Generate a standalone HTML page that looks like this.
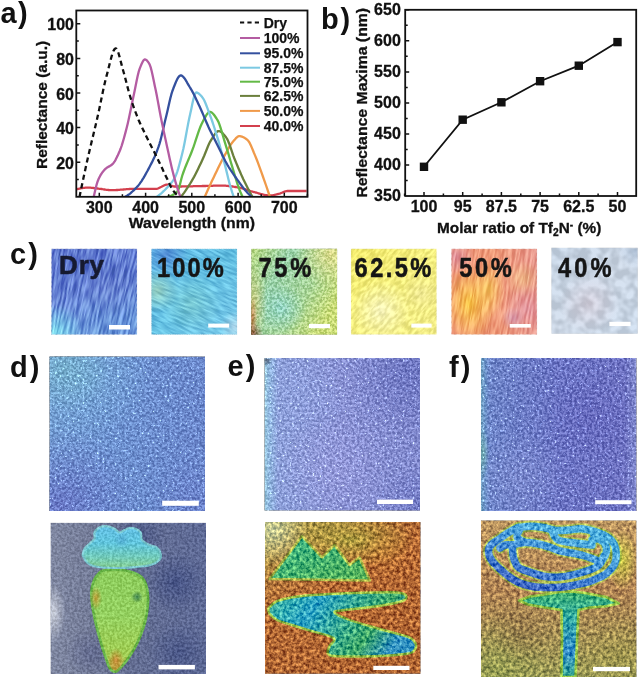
<!DOCTYPE html>
<html><head><meta charset="utf-8"><style>
html,body{margin:0;padding:0;background:#fff;}
svg{display:block;}
</style></head><body>
<svg width="641" height="677" viewBox="0 0 641 677">
<defs><clipPath id="clipA"><rect x="77" y="11.4" width="229.6" height="184.6"/></clipPath>
<linearGradient id="gDry" x1="0" y1="0" x2="0.25" y2="1"><stop offset="0" stop-color="#5c74cc"/><stop offset="0.55" stop-color="#6480d2"/><stop offset="1" stop-color="#6a96da"/></linearGradient>
<filter id="nDry" x="0" y="0" width="1" height="1" color-interpolation-filters="sRGB"><feTurbulence type="fractalNoise" baseFrequency="0.5 0.05" numOctaves="2" seed="3" result="t1"/><feColorMatrix in="t1" type="matrix" values="2.700 0 0 0 -0.850  3.000 0 0 0 -1.000  1.800 0 0 0 -0.400  0 0 0 0 1" result="g1"/><feComposite in="SourceGraphic" in2="g1" operator="arithmetic" k1="0" k2="1" k3="0.300" k4="-0.150" result="o1"/><feComposite in="o1" in2="SourceGraphic" operator="in"/></filter>
<radialGradient id="b1" gradientUnits="userSpaceOnUse" cx="55.2" cy="332.6" r="28.0"><stop offset="0" stop-color="#80dcf0" stop-opacity="1"/><stop offset="1" stop-color="#80dcf0" stop-opacity="0"/></radialGradient>
<radialGradient id="b2" gradientUnits="userSpaceOnUse" cx="111.2" cy="288.6" r="30.0"><stop offset="0" stop-color="#6478c8" stop-opacity="0.35"/><stop offset="1" stop-color="#6478c8" stop-opacity="0"/></radialGradient>
<clipPath id="cDry"><rect x="51.2" y="248.6" width="86.0" height="86.2"/></clipPath>
<linearGradient id="g100" x1="0" y1="0" x2="1" y2="1"><stop offset="0" stop-color="#5cb4e2"/><stop offset="0.5" stop-color="#64c0e2"/><stop offset="1" stop-color="#74c4e6"/></linearGradient>
<filter id="n100" x="0" y="0" width="1" height="1" color-interpolation-filters="sRGB"><feTurbulence type="fractalNoise" baseFrequency="0.5 0.07" numOctaves="2" seed="7" result="t1"/><feColorMatrix in="t1" type="matrix" values="2.400 0 0 0 -0.700  2.400 0 0 0 -0.700  1.800 0 0 0 -0.400  0 0 0 0 1" result="g1"/><feComposite in="SourceGraphic" in2="g1" operator="arithmetic" k1="0" k2="1" k3="0.200" k4="-0.100" result="o1"/><feComposite in="o1" in2="SourceGraphic" operator="in"/></filter>
<radialGradient id="b3" gradientUnits="userSpaceOnUse" cx="166.2" cy="254.6" r="22.0"><stop offset="0" stop-color="#4a7ad0" stop-opacity="0.75"/><stop offset="1" stop-color="#4a7ad0" stop-opacity="0"/></radialGradient>
<radialGradient id="b4" gradientUnits="userSpaceOnUse" cx="157.2" cy="290.6" r="22.0"><stop offset="0" stop-color="#a8d8b8" stop-opacity="0.75"/><stop offset="1" stop-color="#a8d8b8" stop-opacity="0"/></radialGradient>
<radialGradient id="b5" gradientUnits="userSpaceOnUse" cx="191.2" cy="303.6" r="30.0"><stop offset="0" stop-color="#88d0c8" stop-opacity="0.55"/><stop offset="1" stop-color="#88d0c8" stop-opacity="0"/></radialGradient>
<radialGradient id="b6" gradientUnits="userSpaceOnUse" cx="235.2" cy="326.6" r="15.0"><stop offset="0" stop-color="#d0e8f4" stop-opacity="0.7"/><stop offset="1" stop-color="#d0e8f4" stop-opacity="0"/></radialGradient>
<clipPath id="c100"><rect x="151.2" y="248.6" width="86.0" height="86.2"/></clipPath>
<linearGradient id="g75" x1="0" y1="0" x2="1" y2="0.6"><stop offset="0" stop-color="#b8d880"/><stop offset="0.35" stop-color="#98d0a8"/><stop offset="0.7" stop-color="#a8d498"/><stop offset="1" stop-color="#cadc78"/></linearGradient>
<filter id="n75" x="0" y="0" width="1" height="1" color-interpolation-filters="sRGB"><feTurbulence type="fractalNoise" baseFrequency="0.4" numOctaves="2" seed="9" result="t1"/><feColorMatrix in="t1" type="matrix" values="3.300 0 0 0 -1.150  2.400 0 0 0 -0.700  3.600 0 0 0 -1.300  0 0 0 0 1" result="g1"/><feComposite in="SourceGraphic" in2="g1" operator="arithmetic" k1="0" k2="1" k3="0.220" k4="-0.110" result="o1"/><feComposite in="o1" in2="SourceGraphic" operator="in"/></filter>
<radialGradient id="b7" gradientUnits="userSpaceOnUse" cx="331.2" cy="253.6" r="35.0"><stop offset="0" stop-color="#e4dc88" stop-opacity="0.85"/><stop offset="1" stop-color="#e4dc88" stop-opacity="0"/></radialGradient>
<radialGradient id="b8" gradientUnits="userSpaceOnUse" cx="281.2" cy="308.6" r="25.0"><stop offset="0" stop-color="#88d4dc" stop-opacity="0.6"/><stop offset="1" stop-color="#88d4dc" stop-opacity="0"/></radialGradient>
<radialGradient id="b9" gradientUnits="userSpaceOnUse" cx="253.2" cy="303.6" r="14.0" gradientTransform="translate(253.2 303.6) scale(1 2.857) translate(-253.2 -303.6)"><stop offset="0" stop-color="#d0c878" stop-opacity="0.8"/><stop offset="1" stop-color="#d0c878" stop-opacity="0"/></radialGradient>
<radialGradient id="b10" gradientUnits="userSpaceOnUse" cx="251.2" cy="334.6" r="12.0"><stop offset="0" stop-color="#6a3020" stop-opacity="0.95"/><stop offset="1" stop-color="#6a3020" stop-opacity="0"/></radialGradient>
<radialGradient id="b11" gradientUnits="userSpaceOnUse" cx="252.2" cy="318.6" r="5.0" gradientTransform="translate(252.2 318.6) scale(1 4.400) translate(-252.2 -318.6)"><stop offset="0" stop-color="#c07040" stop-opacity="0.8"/><stop offset="1" stop-color="#c07040" stop-opacity="0"/></radialGradient>
<linearGradient id="g625" x1="0" y1="0" x2="1" y2="1"><stop offset="0" stop-color="#f2ea6c"/><stop offset="0.5" stop-color="#f4ee80"/><stop offset="1" stop-color="#f2ec88"/></linearGradient>
<filter id="n625" x="0" y="0" width="1" height="1" color-interpolation-filters="sRGB"><feTurbulence type="fractalNoise" baseFrequency="0.35 0.15" numOctaves="2" seed="13" result="t1"/><feColorMatrix in="t1" type="matrix" values="3.000 0 0 0 -1.000  3.000 0 0 0 -1.000  3.900 0 0 0 -1.450  0 0 0 0 1" result="g1"/><feComposite in="SourceGraphic" in2="g1" operator="arithmetic" k1="0" k2="1" k3="0.140" k4="-0.070" result="o1"/><feComposite in="o1" in2="SourceGraphic" operator="in"/></filter>
<radialGradient id="b12" gradientUnits="userSpaceOnUse" cx="380.8" cy="310.6" r="30.0"><stop offset="0" stop-color="#f8f6d0" stop-opacity="0.75"/><stop offset="1" stop-color="#f8f6d0" stop-opacity="0"/></radialGradient>
<radialGradient id="b13" gradientUnits="userSpaceOnUse" cx="420.8" cy="293.6" r="20.0"><stop offset="0" stop-color="#e8e0a0" stop-opacity="0.5"/><stop offset="1" stop-color="#e8e0a0" stop-opacity="0"/></radialGradient>
<clipPath id="c625"><rect x="350.8" y="248.6" width="86.0" height="86.2"/></clipPath>
<linearGradient id="g50" x1="0" y1="0" x2="1" y2="0"><stop offset="0" stop-color="#ee967c"/><stop offset="0.5" stop-color="#f09c7a"/><stop offset="1" stop-color="#e8988e"/></linearGradient>
<filter id="n50" x="0" y="0" width="1" height="1" color-interpolation-filters="sRGB"><feTurbulence type="fractalNoise" baseFrequency="0.45 0.05" numOctaves="2" seed="21" result="t1"/><feColorMatrix in="t1" type="matrix" values="1.500 0 0 0 -0.250  3.000 0 0 0 -1.000  2.700 0 0 0 -0.850  0 0 0 0 1" result="g1"/><feComposite in="SourceGraphic" in2="g1" operator="arithmetic" k1="0" k2="1" k3="0.200" k4="-0.100" result="o1"/><feComposite in="o1" in2="SourceGraphic" operator="in"/></filter>
<radialGradient id="b14" gradientUnits="userSpaceOnUse" cx="469.2" cy="303.6" r="26.0" gradientTransform="translate(469.2 303.6) scale(1 1.538) translate(-469.2 -303.6)"><stop offset="0" stop-color="#f8c840" stop-opacity="0.9"/><stop offset="1" stop-color="#f8c840" stop-opacity="0"/></radialGradient>
<radialGradient id="b15" gradientUnits="userSpaceOnUse" cx="489.2" cy="288.6" r="16.0" gradientTransform="translate(489.2 288.6) scale(1 1.875) translate(-489.2 -288.6)"><stop offset="0" stop-color="#f8d058" stop-opacity="0.7"/><stop offset="1" stop-color="#f8d058" stop-opacity="0"/></radialGradient>
<radialGradient id="b16" gradientUnits="userSpaceOnUse" cx="523.2" cy="278.6" r="18.0"><stop offset="0" stop-color="#f4d088" stop-opacity="0.55"/><stop offset="1" stop-color="#f4d088" stop-opacity="0"/></radialGradient>
<radialGradient id="b17" gradientUnits="userSpaceOnUse" cx="526.2" cy="308.6" r="24.0"><stop offset="0" stop-color="#e094ac" stop-opacity="0.6"/><stop offset="1" stop-color="#e094ac" stop-opacity="0"/></radialGradient>
<radialGradient id="b18" gradientUnits="userSpaceOnUse" cx="456.2" cy="256.6" r="18.0"><stop offset="0" stop-color="#d890a8" stop-opacity="0.7"/><stop offset="1" stop-color="#d890a8" stop-opacity="0"/></radialGradient>
<radialGradient id="b19" gradientUnits="userSpaceOnUse" cx="513.2" cy="318.6" r="12.0"><stop offset="0" stop-color="#c890b8" stop-opacity="0.6"/><stop offset="1" stop-color="#c890b8" stop-opacity="0"/></radialGradient>
<clipPath id="c50"><rect x="451.2" y="248.6" width="86.0" height="86.2"/></clipPath>
<linearGradient id="g40" x1="0" y1="0" x2="1" y2="1"><stop offset="0" stop-color="#c4d2e2"/><stop offset="0.5" stop-color="#c8d3e1"/><stop offset="1" stop-color="#c8d6e6"/></linearGradient>
<filter id="n40" x="0" y="0" width="1" height="1" color-interpolation-filters="sRGB"><feTurbulence type="fractalNoise" baseFrequency="0.1" numOctaves="2" seed="25" result="t1"/><feColorMatrix in="t1" type="matrix" values="3.000 0 0 0 -1.000  3.000 0 0 0 -1.000  3.000 0 0 0 -1.000  0 0 0 0 1" result="g1"/><feComposite in="SourceGraphic" in2="g1" operator="arithmetic" k1="0" k2="1" k3="0.120" k4="-0.060" result="o1"/><feComposite in="o1" in2="SourceGraphic" operator="in"/></filter>
<radialGradient id="b20" gradientUnits="userSpaceOnUse" cx="589.3" cy="303.6" r="30.0"><stop offset="0" stop-color="#d4ccd8" stop-opacity="0.7"/><stop offset="1" stop-color="#d4ccd8" stop-opacity="0"/></radialGradient>
<radialGradient id="b21" gradientUnits="userSpaceOnUse" cx="635.3" cy="250.6" r="18.0"><stop offset="0" stop-color="#a8bcd4" stop-opacity="0.7"/><stop offset="1" stop-color="#a8bcd4" stop-opacity="0"/></radialGradient>
<linearGradient id="gDt" x1="0" y1="0" x2="1" y2="0.2"><stop offset="0" stop-color="#74a0d2"/><stop offset="0.5" stop-color="#6c90ce"/><stop offset="1" stop-color="#6a86ca"/></linearGradient>
<filter id="nDt" x="0" y="0" width="1" height="1" color-interpolation-filters="sRGB"><feTurbulence type="fractalNoise" baseFrequency="0.4" numOctaves="2" seed="31" result="t1"/><feColorMatrix in="t1" type="matrix" values="2.400 0 0 0 -0.700  2.850 0 0 0 -0.925  2.700 0 0 0 -0.850  0 0 0 0 1" result="g1"/><feComposite in="SourceGraphic" in2="g1" operator="arithmetic" k1="0" k2="1" k3="0.220" k4="-0.110" result="o1"/><feTurbulence type="fractalNoise" baseFrequency="0.4" numOctaves="2" seed="77" result="t2"/><feColorMatrix in="t2" type="matrix" values="3.200 0 0 0 -1.984  3.600 0 0 0 -2.232  3.600 0 0 0 -2.232  0 0 0 0 1" result="g2"/><feComposite in="o1" in2="g2" operator="arithmetic" k1="0" k2="1" k3="0.450" k4="0" result="o1"/><feComposite in="o1" in2="SourceGraphic" operator="in"/></filter>
<radialGradient id="b22" gradientUnits="userSpaceOnUse" cx="59.5" cy="506.5" r="80.0"><stop offset="0" stop-color="#6670c2" stop-opacity="0.85"/><stop offset="1" stop-color="#6670c2" stop-opacity="0"/></radialGradient>
<radialGradient id="b23" gradientUnits="userSpaceOnUse" cx="89.5" cy="376.5" r="60.0"><stop offset="0" stop-color="#76aad4" stop-opacity="0.6"/><stop offset="1" stop-color="#76aad4" stop-opacity="0"/></radialGradient>
<radialGradient id="b24" gradientUnits="userSpaceOnUse" cx="64.5" cy="368.5" r="45.0"><stop offset="0" stop-color="#74b4c4" stop-opacity="0.55"/><stop offset="1" stop-color="#74b4c4" stop-opacity="0"/></radialGradient>
<radialGradient id="b25" gradientUnits="userSpaceOnUse" cx="199.5" cy="506.5" r="50.0"><stop offset="0" stop-color="#6a78c6" stop-opacity="0.4"/><stop offset="1" stop-color="#6a78c6" stop-opacity="0"/></radialGradient>
<linearGradient id="gEt" x1="0" y1="0" x2="1" y2="0"><stop offset="0" stop-color="#98c8de"/><stop offset="0.03" stop-color="#90b6de"/><stop offset="0.09" stop-color="#8c9ed8"/><stop offset="0.5" stop-color="#8890d2"/><stop offset="1" stop-color="#8088cc"/></linearGradient>
<filter id="nEt" x="0" y="0" width="1" height="1" color-interpolation-filters="sRGB"><feTurbulence type="fractalNoise" baseFrequency="0.4" numOctaves="2" seed="37" result="t1"/><feColorMatrix in="t1" type="matrix" values="2.700 0 0 0 -0.850  2.700 0 0 0 -0.850  2.400 0 0 0 -0.700  0 0 0 0 1" result="g1"/><feComposite in="SourceGraphic" in2="g1" operator="arithmetic" k1="0" k2="1" k3="0.220" k4="-0.110" result="o1"/><feTurbulence type="fractalNoise" baseFrequency="0.4" numOctaves="2" seed="77" result="t2"/><feColorMatrix in="t2" type="matrix" values="3.200 0 0 0 -1.984  3.600 0 0 0 -2.232  3.600 0 0 0 -2.232  0 0 0 0 1" result="g2"/><feComposite in="o1" in2="g2" operator="arithmetic" k1="0" k2="1" k3="0.450" k4="0" result="o1"/><feComposite in="o1" in2="SourceGraphic" operator="in"/></filter>
<radialGradient id="b26" gradientUnits="userSpaceOnUse" cx="409.5" cy="373.0" r="65.0"><stop offset="0" stop-color="#6068b8" stop-opacity="0.6"/><stop offset="1" stop-color="#6068b8" stop-opacity="0"/></radialGradient>
<radialGradient id="b27" gradientUnits="userSpaceOnUse" cx="419.5" cy="508.0" r="45.0"><stop offset="0" stop-color="#6068b8" stop-opacity="0.5"/><stop offset="1" stop-color="#6068b8" stop-opacity="0"/></radialGradient>
<radialGradient id="b28" gradientUnits="userSpaceOnUse" cx="334.5" cy="468.0" r="55.0"><stop offset="0" stop-color="#9a9cdc" stop-opacity="0.55"/><stop offset="1" stop-color="#9a9cdc" stop-opacity="0"/></radialGradient>
<radialGradient id="b29" gradientUnits="userSpaceOnUse" cx="304.5" cy="398.0" r="40.0"><stop offset="0" stop-color="#8ea0dc" stop-opacity="0.4"/><stop offset="1" stop-color="#8ea0dc" stop-opacity="0"/></radialGradient>
<radialGradient id="b30" gradientUnits="userSpaceOnUse" cx="266.5" cy="360.0" r="6.0"><stop offset="0" stop-color="#404860" stop-opacity="0.8"/><stop offset="1" stop-color="#404860" stop-opacity="0"/></radialGradient>
<linearGradient id="gFt" x1="0" y1="0" x2="1" y2="0"><stop offset="0" stop-color="#6c9cbc"/><stop offset="0.025" stop-color="#6c94c8"/><stop offset="0.06" stop-color="#6c82c6"/><stop offset="0.5" stop-color="#6a72c2"/><stop offset="0.92" stop-color="#6c70c0"/><stop offset="1" stop-color="#8088cc"/></linearGradient>
<filter id="nFt" x="0" y="0" width="1" height="1" color-interpolation-filters="sRGB"><feTurbulence type="fractalNoise" baseFrequency="0.4" numOctaves="2" seed="41" result="t1"/><feColorMatrix in="t1" type="matrix" values="2.700 0 0 0 -0.850  2.700 0 0 0 -0.850  2.400 0 0 0 -0.700  0 0 0 0 1" result="g1"/><feComposite in="SourceGraphic" in2="g1" operator="arithmetic" k1="0" k2="1" k3="0.220" k4="-0.110" result="o1"/><feTurbulence type="fractalNoise" baseFrequency="0.4" numOctaves="2" seed="77" result="t2"/><feColorMatrix in="t2" type="matrix" values="3.200 0 0 0 -1.984  3.600 0 0 0 -2.232  3.600 0 0 0 -2.232  0 0 0 0 1" result="g2"/><feComposite in="o1" in2="g2" operator="arithmetic" k1="0" k2="1" k3="0.450" k4="0" result="o1"/><feComposite in="o1" in2="SourceGraphic" operator="in"/></filter>
<radialGradient id="b31" gradientUnits="userSpaceOnUse" cx="521.0" cy="478.0" r="50.0"><stop offset="0" stop-color="#8490d0" stop-opacity="0.5"/><stop offset="1" stop-color="#8490d0" stop-opacity="0"/></radialGradient>
<radialGradient id="b32" gradientUnits="userSpaceOnUse" cx="483.0" cy="453.0" r="6.0" gradientTransform="translate(483.0 453.0) scale(1 4.167) translate(-483.0 -453.0)"><stop offset="0" stop-color="#70b0a0" stop-opacity="0.6"/><stop offset="1" stop-color="#70b0a0" stop-opacity="0"/></radialGradient>
<radialGradient id="b33" gradientUnits="userSpaceOnUse" cx="591.0" cy="418.0" r="45.0"><stop offset="0" stop-color="#6060b8" stop-opacity="0.5"/><stop offset="1" stop-color="#6060b8" stop-opacity="0"/></radialGradient>
<linearGradient id="gDb" x1="0" y1="0" x2="1" y2="0"><stop offset="0" stop-color="#8088a2"/><stop offset="0.25" stop-color="#747c98"/><stop offset="0.5" stop-color="#646e92"/><stop offset="1" stop-color="#5e6a96"/></linearGradient>
<linearGradient id="gLeaf" x1="0" y1="0" x2="0" y2="1"><stop offset="0" stop-color="#64c0e4"/><stop offset="0.4" stop-color="#60c4dc"/><stop offset="0.75" stop-color="#72cab8"/><stop offset="1" stop-color="#84cc90"/></linearGradient>
<linearGradient id="gCarrot" x1="0" y1="0" x2="0" y2="1"><stop offset="0" stop-color="#8ccc5c"/><stop offset="0.45" stop-color="#94d060"/><stop offset="0.85" stop-color="#a0cc52"/><stop offset="1" stop-color="#c0a040"/></linearGradient>
<filter id="nDb" x="0" y="0" width="1" height="1" color-interpolation-filters="sRGB"><feTurbulence type="fractalNoise" baseFrequency="0.4" numOctaves="2" seed="43" result="t1"/><feColorMatrix in="t1" type="matrix" values="2.250 0 0 0 -0.625  2.375 0 0 0 -0.688  2.500 0 0 0 -0.750  0 0 0 0 1" result="g1"/><feComposite in="SourceGraphic" in2="g1" operator="arithmetic" k1="0" k2="1" k3="0.150" k4="-0.075" result="o1"/><feComposite in="o1" in2="SourceGraphic" operator="in"/></filter>
<radialGradient id="b34" gradientUnits="userSpaceOnUse" cx="175.5" cy="582.7" r="30.0"><stop offset="0" stop-color="#34427a" stop-opacity="0.6"/><stop offset="1" stop-color="#34427a" stop-opacity="0"/></radialGradient>
<radialGradient id="b35" gradientUnits="userSpaceOnUse" cx="178.5" cy="652.7" r="30.0"><stop offset="0" stop-color="#34427a" stop-opacity="0.5"/><stop offset="1" stop-color="#34427a" stop-opacity="0"/></radialGradient>
<radialGradient id="b36" gradientUnits="userSpaceOnUse" cx="140.5" cy="534.7" r="25.0"><stop offset="0" stop-color="#34427a" stop-opacity="0.45"/><stop offset="1" stop-color="#34427a" stop-opacity="0"/></radialGradient>
<radialGradient id="b37" gradientUnits="userSpaceOnUse" cx="90.5" cy="652.7" r="25.0"><stop offset="0" stop-color="#4a5282" stop-opacity="0.4"/><stop offset="1" stop-color="#4a5282" stop-opacity="0"/></radialGradient>
<radialGradient id="b38" gradientUnits="userSpaceOnUse" cx="53.5" cy="612.7" r="12.0" gradientTransform="translate(53.5 612.7) scale(1 2.500) translate(-53.5 -612.7)"><stop offset="0" stop-color="#dce0e8" stop-opacity="0.8"/><stop offset="1" stop-color="#dce0e8" stop-opacity="0"/></radialGradient>
<radialGradient id="b39" gradientUnits="userSpaceOnUse" cx="96.0" cy="598.0" r="6.0" gradientTransform="translate(96.0 598.0) scale(1 2.000) translate(-96.0 -598.0)"><stop offset="0" stop-color="#c89030" stop-opacity="0.8"/><stop offset="1" stop-color="#c89030" stop-opacity="0"/></radialGradient>
<radialGradient id="b40" gradientUnits="userSpaceOnUse" cx="116.0" cy="660.0" r="8.0" gradientTransform="translate(116.0 660.0) scale(1 1.500) translate(-116.0 -660.0)"><stop offset="0" stop-color="#d07830" stop-opacity="0.8"/><stop offset="1" stop-color="#d07830" stop-opacity="0"/></radialGradient>
<radialGradient id="b41" gradientUnits="userSpaceOnUse" cx="137.0" cy="597.0" r="6.0"><stop offset="0" stop-color="#2a7048" stop-opacity="0.85"/><stop offset="1" stop-color="#2a7048" stop-opacity="0"/></radialGradient>
<radialGradient id="b42" gradientUnits="userSpaceOnUse" cx="122.0" cy="540.0" r="8.0"><stop offset="0" stop-color="#3a80c0" stop-opacity="0.3"/><stop offset="1" stop-color="#3a80c0" stop-opacity="0"/></radialGradient>
<linearGradient id="gEb" x1="0" y1="0" x2="0.6" y2="1"><stop offset="0" stop-color="#aca454"/><stop offset="0.2" stop-color="#ac8c44"/><stop offset="0.32" stop-color="#b2763c"/><stop offset="0.5" stop-color="#b26834"/><stop offset="1" stop-color="#ae6432"/></linearGradient>
<linearGradient id="gMount" x1="0" y1="0" x2="1" y2="1"><stop offset="0" stop-color="#3cb488"/><stop offset="0.5" stop-color="#44b070"/><stop offset="1" stop-color="#5cb458"/></linearGradient>
<linearGradient id="gLake" x1="0" y1="0" x2="1" y2="0.3"><stop offset="0" stop-color="#58b890"/><stop offset="0.15" stop-color="#38b0b0"/><stop offset="0.35" stop-color="#2aa0c4"/><stop offset="0.6" stop-color="#38a890"/><stop offset="0.8" stop-color="#40a868"/><stop offset="1" stop-color="#3090c0"/></linearGradient>
<filter id="nEb" x="0" y="0" width="1" height="1" color-interpolation-filters="sRGB"><feTurbulence type="fractalNoise" baseFrequency="0.3" numOctaves="3" seed="57" result="t1"/><feColorMatrix in="t1" type="matrix" values="2.000 0 0 0 -0.500  1.700 0 0 0 -0.350  1.000 0 0 0 0.000  0 0 0 0 1" result="g1"/><feComposite in="SourceGraphic" in2="g1" operator="arithmetic" k1="0" k2="1" k3="0.500" k4="-0.250" result="o1"/><feComposite in="o1" in2="SourceGraphic" operator="in"/></filter>
<radialGradient id="b43" gradientUnits="userSpaceOnUse" cx="350.0" cy="540.0" r="65.0" gradientTransform="translate(350.0 540.0) scale(1 0.431) translate(-350.0 -540.0)"><stop offset="0" stop-color="#a8a440" stop-opacity="0.8"/><stop offset="1" stop-color="#a8a440" stop-opacity="0"/></radialGradient>
<radialGradient id="b44" gradientUnits="userSpaceOnUse" cx="290.0" cy="652.0" r="45.0"><stop offset="0" stop-color="#b06a38" stop-opacity="0.5"/><stop offset="1" stop-color="#b06a38" stop-opacity="0"/></radialGradient>
<radialGradient id="b45" gradientUnits="userSpaceOnUse" cx="273.0" cy="530.0" r="35.0"><stop offset="0" stop-color="#c8d0a0" stop-opacity="0.9"/><stop offset="1" stop-color="#c8d0a0" stop-opacity="0"/></radialGradient>
<radialGradient id="b46" gradientUnits="userSpaceOnUse" cx="385.0" cy="552.0" r="25.0"><stop offset="0" stop-color="#c08038" stop-opacity="0.5"/><stop offset="1" stop-color="#c08038" stop-opacity="0"/></radialGradient>
<linearGradient id="gFb" x1="0" y1="0" x2="0" y2="1"><stop offset="0" stop-color="#bc9660"/><stop offset="0.45" stop-color="#b08454"/><stop offset="0.7" stop-color="#a48c54"/><stop offset="1" stop-color="#9a9a56"/></linearGradient>
<linearGradient id="gStem" x1="0" y1="0" x2="0" y2="1"><stop offset="0" stop-color="#40b070"/><stop offset="0.3" stop-color="#30a8a0"/><stop offset="0.7" stop-color="#3088c8"/><stop offset="1" stop-color="#38a890"/></linearGradient>
<linearGradient id="gRose" x1="0" y1="0" x2="0.3" y2="1"><stop offset="0" stop-color="#40a0d8"/><stop offset="0.5" stop-color="#3c74cc"/><stop offset="1" stop-color="#3050b8"/></linearGradient>
<linearGradient id="gRoseR" x1="0" y1="0" x2="1" y2="0"><stop offset="0" stop-color="#3050b8" stop-opacity="0"/><stop offset="0.7" stop-color="#40a8c8" stop-opacity="0.6"/><stop offset="1" stop-color="#60c090" stop-opacity="1"/></linearGradient>
<filter id="nFb" x="0" y="0" width="1" height="1" color-interpolation-filters="sRGB"><feTurbulence type="fractalNoise" baseFrequency="0.3" numOctaves="3" seed="67" result="t1"/><feColorMatrix in="t1" type="matrix" values="1.700 0 0 0 -0.350  1.530 0 0 0 -0.265  0.935 0 0 0 0.032  0 0 0 0 1" result="g1"/><feComposite in="SourceGraphic" in2="g1" operator="arithmetic" k1="0" k2="1" k3="0.500" k4="-0.250" result="o1"/><feComposite in="o1" in2="SourceGraphic" operator="in"/></filter>
<radialGradient id="b47" gradientUnits="userSpaceOnUse" cx="496.0" cy="670.4" r="55.0"><stop offset="0" stop-color="#90a050" stop-opacity="0.55"/><stop offset="1" stop-color="#90a050" stop-opacity="0"/></radialGradient>
<radialGradient id="b48" gradientUnits="userSpaceOnUse" cx="621.0" cy="660.4" r="45.0"><stop offset="0" stop-color="#a09848" stop-opacity="0.45"/><stop offset="1" stop-color="#a09848" stop-opacity="0"/></radialGradient>
<radialGradient id="b49" gradientUnits="userSpaceOnUse" cx="521.0" cy="630.4" r="30.0"><stop offset="0" stop-color="#806040" stop-opacity="0.4"/><stop offset="1" stop-color="#806040" stop-opacity="0"/></radialGradient>
<linearGradient id="gRoseS" gradientUnits="userSpaceOnUse" x1="540" y1="525" x2="520" y2="590"><stop offset="0" stop-color="#4cacdc"/><stop offset="0.5" stop-color="#4488d4"/><stop offset="1" stop-color="#3c60c0"/></linearGradient>
<radialGradient id="b50" gradientUnits="userSpaceOnUse" cx="622.0" cy="560.0" r="16.0" gradientTransform="translate(622.0 560.0) scale(1 1.875) translate(-622.0 -560.0)"><stop offset="0" stop-color="#c8d040" stop-opacity="0.8"/><stop offset="1" stop-color="#c8d040" stop-opacity="0"/></radialGradient></defs>
<rect width="641" height="677" fill="#fff"/>
<g clip-path="url(#clipA)" fill="none" stroke-width="2.3" stroke-linejoin="round" stroke-linecap="butt">
<path d="M76.5,189.3 77.5,189.0 78.5,188.8 79.5,188.6 80.5,188.4 81.5,188.2 82.5,188.0 83.5,187.9 84.5,187.8 85.5,187.7 86.5,187.6 87.5,187.6 88.5,187.6 89.5,187.6 90.5,187.7 91.5,187.8 92.5,187.9 93.5,188.0 94.5,188.1 95.5,188.3 96.5,188.4 97.5,188.5 98.5,188.7 99.5,188.8 100.5,188.9 101.5,189.0 102.5,189.2 103.5,189.3 104.5,189.5 105.5,189.7 106.5,189.8 107.5,189.9 108.5,190.0 109.5,190.1 110.5,190.2 111.5,190.2 112.5,190.2 113.5,190.2 114.5,190.1 115.5,190.1 116.5,190.0 117.5,190.0 118.5,189.9 119.5,189.8 120.5,189.7 121.5,189.7 122.5,189.6 123.5,189.5 124.5,189.4 125.5,189.3 126.5,189.2 127.5,189.1 128.5,189.1 129.5,189.0 130.5,188.9 131.5,188.9 132.5,188.8 133.5,188.8 134.5,188.8 135.5,188.8 136.5,188.8 137.5,188.8 138.5,188.8 139.5,188.8 140.5,188.8 141.5,188.8 142.5,188.8 143.5,188.8 144.5,188.8 145.5,188.8 146.5,188.8 147.5,188.8 148.5,188.8 149.5,188.8 150.5,188.8 151.5,188.8 152.5,188.8 153.5,188.8 154.5,188.8 155.5,188.8 156.5,188.8 157.5,188.6 158.5,188.2 159.5,187.7 160.5,187.2 161.5,186.8 162.5,186.3 163.5,185.8 164.5,185.3 165.5,184.9 166.5,184.6 167.5,184.6 168.5,184.8 169.5,185.0 170.5,185.3 171.5,185.7 172.5,186.0 173.5,186.3 174.5,186.5 175.5,186.5 176.5,186.5 177.5,186.5 178.5,186.5 179.5,186.5 180.5,186.5 181.5,186.5 182.5,186.4 183.5,186.4 184.5,186.4 185.5,186.4 186.5,186.4 187.5,186.4 188.5,186.3 189.5,186.3 190.5,186.3 191.5,186.3 192.5,186.3 193.5,186.2 194.5,186.2 195.5,186.2 196.5,186.2 197.5,186.1 198.5,186.1 199.5,186.1 200.5,186.1 201.5,186.1 202.5,186.0 203.5,186.0 204.5,186.0 205.5,186.0 206.5,185.9 207.5,185.9 208.5,185.9 209.5,185.8 210.5,185.8 211.5,185.8 212.5,185.8 213.5,185.7 214.5,185.7 215.5,185.7 216.5,185.7 217.5,185.6 218.5,185.6 219.5,185.6 220.5,185.6 221.5,185.6 222.5,185.6 223.5,185.6 224.5,185.6 225.5,185.7 226.5,185.8 227.5,185.9 228.5,186.0 229.5,186.1 230.5,186.2 231.5,186.4 232.5,186.5 233.5,186.7 234.5,186.8 235.5,187.0 236.5,187.2 237.5,187.3 238.5,187.5 239.5,187.7 240.5,187.9 241.5,188.2 242.5,188.5 243.5,188.8 244.5,189.1 245.5,189.4 246.5,189.8 247.5,190.1 248.5,190.4 249.5,190.7 250.5,191.1 251.5,191.4 252.5,191.7 253.5,192.0 254.5,192.2 255.5,192.5 256.5,192.7 257.5,193.0 258.5,193.3 259.5,193.6 260.5,193.9 261.5,194.1 262.5,194.4 263.5,194.7 264.5,194.9 265.5,195.1 266.5,195.2 267.5,195.4 268.5,195.5 269.5,195.5 270.5,195.5 271.5,195.4 272.5,195.3 273.5,195.1 274.5,194.9 275.5,194.6 276.5,194.4 277.5,194.1 278.5,193.8 279.5,193.6 280.5,193.3 281.5,192.9 282.5,192.5 283.5,192.0 284.5,191.6 285.5,191.3 286.5,191.1 287.5,191.0 288.5,191.0 289.5,191.0 290.5,191.0 291.5,191.0 292.5,191.0 293.5,191.0 294.5,191.0 295.5,191.0 296.5,191.0 297.5,191.0 298.5,191.0 299.5,191.0 300.5,191.0 301.5,191.0 302.5,191.0 303.5,191.0 304.5,191.0 305.5,191.0 306.5,191.0 307.0,191.0" stroke="#d3404e"/>
<path d="M204.9,196.5 205.9,194.2 206.9,192.0 207.9,189.8 208.9,187.6 209.9,185.4 210.9,183.3 211.9,181.1 212.9,179.0 213.9,176.9 214.9,174.8 215.9,172.7 216.9,170.7 217.9,168.6 218.9,166.5 219.9,164.5 220.9,162.5 221.9,160.5 222.9,158.6 223.9,156.7 224.9,154.9 225.9,153.1 226.9,151.2 227.9,149.4 228.9,147.6 229.9,145.9 230.9,144.4 231.9,143.0 232.9,141.8 233.9,140.6 234.9,139.4 235.9,138.2 236.9,137.3 237.9,136.5 238.9,136.2 239.9,136.1 240.9,136.3 241.9,136.6 242.9,137.0 243.9,137.5 244.9,138.1 245.9,138.8 246.9,139.5 247.9,140.4 248.9,141.7 249.9,143.4 250.9,145.5 251.9,147.9 252.9,150.3 253.9,152.8 254.9,155.1 255.9,157.5 256.9,160.0 257.9,162.7 258.9,165.4 259.9,168.1 260.9,170.9 261.9,173.7 262.9,176.5 263.9,179.3 264.9,182.1 265.9,185.0 266.9,187.9 267.9,190.8 268.9,193.8 269.8,196.5" stroke="#f09a4a"/>
<path d="M181.2,196.5 182.2,195.2 183.2,193.9 184.2,192.6 185.2,191.2 186.2,189.7 187.2,188.2 188.2,186.7 189.2,185.1 190.2,183.5 191.2,181.8 192.2,180.1 193.2,178.4 194.2,176.6 195.2,174.7 196.2,172.7 197.2,170.7 198.2,168.7 199.2,166.6 200.2,164.5 201.2,162.4 202.2,160.2 203.2,158.0 204.2,155.7 205.2,153.2 206.2,150.7 207.2,148.2 208.2,145.8 209.2,143.6 210.2,141.6 211.2,139.9 212.2,138.3 213.2,136.7 214.2,135.1 215.2,133.7 216.2,132.5 217.2,131.6 218.2,131.1 219.2,131.2 220.2,131.5 221.2,132.1 222.2,132.9 223.2,133.9 224.2,135.1 225.2,136.3 226.2,137.5 227.2,139.1 228.2,141.2 229.2,143.7 230.2,146.4 231.2,149.4 232.2,152.3 233.2,155.3 234.2,158.0 235.2,160.5 236.2,162.9 237.2,165.3 238.2,167.7 239.2,170.0 240.2,172.3 241.2,174.6 242.2,176.8 243.2,179.0 244.2,181.0 245.2,183.1 246.2,185.1 247.2,187.1 248.2,189.0 249.2,190.9 250.2,192.8 251.2,194.6 252.2,196.3 252.3,196.5" stroke="#6b7f3c"/>
<path d="M167.5,196.5 168.5,196.4 169.5,196.3 170.5,196.0 171.5,195.6 172.5,195.1 173.5,194.5 174.5,193.9 175.5,193.1 176.5,192.2 177.5,191.3 178.5,189.5 179.5,186.3 180.5,182.3 181.5,178.3 182.5,174.8 183.5,172.0 184.5,169.3 185.5,166.7 186.5,164.3 187.5,161.9 188.5,159.5 189.5,157.1 190.5,154.7 191.5,152.2 192.5,149.6 193.5,146.9 194.5,144.0 195.5,140.9 196.5,137.9 197.5,134.8 198.5,131.9 199.5,129.1 200.5,126.5 201.5,124.2 202.5,122.2 203.5,120.3 204.5,118.4 205.5,116.6 206.5,114.9 207.5,113.5 208.5,112.5 209.5,111.9 210.5,112.0 211.5,112.4 212.5,113.2 213.5,114.2 214.5,115.5 215.5,117.0 216.5,118.5 217.5,120.1 218.5,122.0 219.5,124.6 220.5,127.6 221.5,130.8 222.5,134.3 223.5,137.8 224.5,141.1 225.5,144.3 226.5,147.6 227.5,150.9 228.5,154.2 229.5,157.6 230.5,161.0 231.5,164.3 232.5,167.6 233.5,171.0 234.5,174.3 235.5,177.7 236.5,181.0 237.5,184.1 238.5,187.0 239.5,189.7 240.5,192.2 241.5,194.5 242.4,196.5" stroke="#63b946"/>
<path d="M156.3,197.0 157.3,196.4 158.3,195.7 159.3,194.9 160.3,194.1 161.3,193.3 162.3,192.4 163.3,191.4 164.3,190.5 165.3,189.5 166.3,188.4 167.3,187.4 168.3,186.3 169.3,185.2 170.3,184.1 171.3,182.9 172.3,181.6 173.3,180.2 174.3,178.6 175.3,176.7 176.3,174.4 177.3,171.6 178.3,168.4 179.3,164.8 180.3,161.1 181.3,157.2 182.3,153.2 183.3,149.0 184.3,144.2 185.3,139.0 186.3,133.5 187.3,128.1 188.3,122.9 189.3,118.0 190.3,113.6 191.3,109.0 192.3,104.1 193.3,99.6 194.3,95.8 195.3,93.3 196.3,92.5 197.3,92.7 198.3,93.3 199.3,94.0 200.3,95.0 201.3,96.1 202.3,97.3 203.3,98.7 204.3,100.5 205.3,102.7 206.3,105.2 207.3,107.8 208.3,110.6 209.3,113.3 210.3,116.0 211.3,118.7 212.3,121.5 213.3,124.5 214.3,127.5 215.3,130.6 216.3,133.8 217.3,137.1 218.3,140.4 219.3,143.9 220.3,147.5 221.3,151.2 222.3,154.9 223.3,158.7 224.3,162.5 225.3,166.4 226.3,170.4 227.3,174.6 228.3,178.7 229.3,182.6 230.3,186.2 231.3,189.5 232.3,192.7 233.3,195.6 233.6,196.5" stroke="#7cc9e2"/>
<path d="M124.4,197.0 125.4,196.6 126.4,196.1 127.4,195.5 128.4,194.8 129.4,194.1 130.4,193.3 131.4,192.4 132.4,191.5 133.4,190.6 134.4,189.6 135.4,188.6 136.4,187.6 137.4,186.5 138.4,185.4 139.4,184.1 140.4,182.7 141.4,181.3 142.4,179.7 143.4,178.1 144.4,176.4 145.4,174.6 146.4,172.8 147.4,171.0 148.4,169.1 149.4,167.2 150.4,165.3 151.4,163.4 152.4,161.4 153.4,159.3 154.4,157.2 155.4,154.9 156.4,152.5 157.4,149.9 158.4,147.2 159.4,144.1 160.4,140.6 161.4,136.7 162.4,132.5 163.4,128.2 164.4,123.8 165.4,119.6 166.4,115.5 167.4,111.2 168.4,106.7 169.4,102.3 170.4,98.0 171.4,94.2 172.4,91.0 173.4,88.3 174.4,85.8 175.4,83.3 176.4,80.9 177.4,78.8 178.4,77.2 179.4,76.0 180.4,75.4 181.4,75.5 182.4,76.1 183.4,77.0 184.4,78.2 185.4,79.7 186.4,81.3 187.4,83.1 188.4,84.8 189.4,86.5 190.4,88.1 191.4,89.8 192.4,91.6 193.4,93.5 194.4,95.5 195.4,97.6 196.4,99.7 197.4,101.8 198.4,104.0 199.4,106.1 200.4,108.3 201.4,110.5 202.4,112.8 203.4,115.1 204.4,117.5 205.4,119.9 206.4,122.2 207.4,124.5 208.4,126.8 209.4,128.9 210.4,131.0 211.4,133.0 212.4,135.0 213.4,137.0 214.4,139.0 215.4,140.9 216.4,142.9 217.4,144.9 218.4,146.9 219.4,149.0 220.4,151.1 221.4,153.1 222.4,155.2 223.4,157.3 224.4,159.2 225.4,161.2 226.4,163.0 227.4,164.8 228.4,166.5 229.4,168.1 230.4,169.7 231.4,171.2 232.4,172.7 233.4,174.1 234.4,175.6 235.4,177.0 236.4,178.4 237.4,179.8 238.4,181.2 239.4,182.6 240.4,184.0 241.4,185.3 242.4,186.7 243.4,188.0 244.4,189.2 245.4,190.4 246.4,191.5 247.4,192.7 248.4,193.8 249.4,194.8 250.4,195.8 251.1,196.5" stroke="#34509e"/>
<path d="M93.7,197.0 94.7,192.4 95.7,188.2 96.7,184.3 97.7,181.2 98.7,178.8 99.7,176.7 100.7,174.9 101.7,173.3 102.7,171.9 103.7,170.7 104.7,169.6 105.7,168.6 106.7,167.8 107.7,167.2 108.7,166.6 109.7,166.1 110.7,165.5 111.7,164.8 112.7,163.9 113.7,162.7 114.7,161.3 115.7,159.6 116.7,157.6 117.7,155.6 118.7,153.3 119.7,151.0 120.7,148.5 121.7,145.6 122.7,142.4 123.7,139.0 124.7,135.4 125.7,131.6 126.7,127.8 127.7,123.7 128.7,119.3 129.7,114.6 130.7,109.7 131.7,104.8 132.7,99.9 133.7,95.2 134.7,90.5 135.7,85.5 136.7,80.5 137.7,75.8 138.7,71.7 139.7,68.6 140.7,66.1 141.7,63.7 142.7,61.7 143.7,60.2 144.7,59.4 145.7,59.6 146.7,60.3 147.7,61.4 148.7,62.8 149.7,64.6 150.7,67.4 151.7,71.2 152.7,75.7 153.7,80.5 154.7,85.4 155.7,90.0 156.7,95.0 157.7,100.4 158.7,105.8 159.7,111.3 160.7,116.5 161.7,121.4 162.7,126.3 163.7,131.0 164.7,135.7 165.7,140.3 166.7,144.9 167.7,149.5 168.7,154.1 169.7,158.7 170.7,163.1 171.7,167.4 172.7,171.5 173.7,175.4 174.7,179.1 175.7,182.6 176.7,185.9 177.7,189.1 178.7,192.1 179.7,194.9 180.5,197.0" stroke="#b45ca2"/>
<path d="M79.5,197.0 80.5,192.1 81.5,187.3 82.5,182.5 83.5,177.8 84.5,173.1 85.5,168.5 86.5,163.9 87.5,159.4 88.5,155.0 89.5,150.7 90.5,146.5 91.5,142.3 92.5,138.2 93.5,134.0 94.5,129.9 95.5,125.7 96.5,121.5 97.5,117.1 98.5,112.6 99.5,107.9 100.5,103.1 101.5,98.2 102.5,93.4 103.5,88.7 104.5,84.2 105.5,80.0 106.5,76.1 107.5,72.4 108.5,68.4 109.5,64.4 110.5,60.4 111.5,56.7 112.5,53.5 113.5,50.9 114.5,49.1 115.5,48.3 116.5,48.8 117.5,50.5 118.5,53.2 119.5,56.6 120.5,60.4 121.5,64.4 122.5,68.2 123.5,71.7 124.5,75.3 125.5,79.1 126.5,83.0 127.5,86.9 128.5,90.7 129.5,94.3 130.5,97.6 131.5,100.8 132.5,103.8 133.5,106.7 134.5,109.5 135.5,112.1 136.5,114.7 137.5,117.2 138.5,119.7 139.5,122.0 140.5,124.2 141.5,126.4 142.5,128.5 143.5,130.6 144.5,132.7 145.5,134.7 146.5,136.8 147.5,138.8 148.5,140.8 149.5,142.8 150.5,144.8 151.5,146.7 152.5,148.6 153.5,150.6 154.5,152.5 155.5,154.5 156.5,156.5 157.5,158.6 158.5,160.7 159.5,162.8 160.5,164.9 161.5,167.0 162.5,169.1 163.5,171.3 164.5,173.3 165.5,175.4 166.5,177.4 167.5,179.6 168.5,181.8 169.5,183.9 170.5,186.0 171.5,187.9 172.5,189.6 173.5,191.0 174.5,192.2 175.5,193.3 176.5,194.4 177.5,195.3 178.5,196.1 179.5,196.7 180.0,197.0" stroke="#111" stroke-dasharray="5.2,3.6"/>
</g>
<rect x="76.3" y="10.5" width="231.2" height="186.3" fill="none" stroke="#111" stroke-width="1.8"/>
<path d="M76.3,179.5h2.5 M76.3,162.2h4.0 M76.3,144.9h2.5 M76.3,127.6h4.0 M76.3,110.3h2.5 M76.3,93.0h4.0 M76.3,75.7h2.5 M76.3,58.4h4.0 M76.3,41.1h2.5 M76.3,23.8h4.0 M99.3,196.8v-4.0 M122.4,196.8v-2.5 M145.6,196.8v-4.0 M168.7,196.8v-2.5 M191.8,196.8v-4.0 M214.9,196.8v-2.5 M238.1,196.8v-4.0 M261.2,196.8v-2.5 M284.3,196.8v-4.0 M307.4,196.8v-2.5" stroke="#111" stroke-width="1.5" fill="none"/>
<g font-family="'Liberation Sans', Arial, sans-serif" font-weight="bold" font-size="16" fill="#111" stroke="#111" stroke-width="0.3">
<text x="74" y="168.7" text-anchor="end">20</text>
<text x="74" y="134.1" text-anchor="end">40</text>
<text x="74" y="99.5" text-anchor="end">60</text>
<text x="74" y="64.9" text-anchor="end">80</text>
<text x="74" y="30.3" text-anchor="end">100</text>
<text x="99.3" y="213.4" text-anchor="middle">300</text>
<text x="145.6" y="213.4" text-anchor="middle">400</text>
<text x="191.8" y="213.4" text-anchor="middle">500</text>
<text x="238.1" y="213.4" text-anchor="middle">600</text>
<text x="284.3" y="213.4" text-anchor="middle">700</text>
<text x="128.7" y="227.8" font-size="14.6" textLength="126.3" lengthAdjust="spacingAndGlyphs">Wavelength (nm)</text>
<text transform="translate(47.0,169.0) rotate(-90)" x="0" y="0" font-size="15" textLength="128.2" lengthAdjust="spacingAndGlyphs">Reflectance (a.u.)</text>
</g>
<g font-family="'Liberation Sans', Arial, sans-serif" font-weight="bold" font-size="14" fill="#111" stroke="#111" stroke-width="0.25">
<line x1="240" x2="260" y1="22.6" y2="22.6" stroke="#111" stroke-width="2" stroke-dasharray="4.2,3.2"/>
<text x="263.7" y="27.5">Dry</text>
<line x1="240" x2="260" y1="38.0" y2="38.0" stroke="#b45ca2" stroke-width="2"/>
<text x="263.7" y="42.9">100%</text>
<line x1="240" x2="260" y1="53.3" y2="53.3" stroke="#34509e" stroke-width="2"/>
<text x="263.7" y="58.2">95.0%</text>
<line x1="240" x2="260" y1="67.7" y2="67.7" stroke="#7cc9e2" stroke-width="2"/>
<text x="263.7" y="72.6">87.5%</text>
<line x1="240" x2="260" y1="81.7" y2="81.7" stroke="#63b946" stroke-width="2"/>
<text x="263.7" y="86.6">75.0%</text>
<line x1="240" x2="260" y1="95.9" y2="95.9" stroke="#6b7f3c" stroke-width="2"/>
<text x="263.7" y="100.8">62.5%</text>
<line x1="240" x2="260" y1="110.9" y2="110.9" stroke="#f09a4a" stroke-width="2"/>
<text x="263.7" y="115.8">50.0%</text>
<line x1="240" x2="260" y1="126.0" y2="126.0" stroke="#d3404e" stroke-width="2"/>
<text x="263.7" y="130.9">40.0%</text>
</g>
<rect x="405.2" y="9.8" width="231.0" height="186.2" fill="none" stroke="#111" stroke-width="1.8"/>
<path d="M405.2,180.5h2.5 M405.2,165.0h4.0 M405.2,149.4h2.5 M405.2,133.9h4.0 M405.2,118.4h2.5 M405.2,102.9h4.0 M405.2,87.4h2.5 M405.2,71.9h4.0 M405.2,56.3h2.5 M405.2,40.8h4.0 M405.2,25.3h2.5 M405.2,9.8h4.0 M424.0,196.0v-4 M443.4,196.0v-2.5 M462.7,196.0v-4 M482.1,196.0v-2.5 M501.4,196.0v-4 M520.8,196.0v-2.5 M540.1,196.0v-4 M559.5,196.0v-2.5 M578.8,196.0v-4 M598.1,196.0v-2.5 M617.5,196.0v-4 M404.6,196.0v-2.5" stroke="#111" stroke-width="1.5" fill="none"/>
<polyline points="424.0,166.8 462.7,119.7 501.4,102.3 540.1,81.2 578.8,65.7 617.5,42.1" fill="none" stroke="#111" stroke-width="1.8"/>
<rect x="419.8" y="162.6" width="8.4" height="8.4" fill="#111"/>
<rect x="458.5" y="115.5" width="8.4" height="8.4" fill="#111"/>
<rect x="497.2" y="98.1" width="8.4" height="8.4" fill="#111"/>
<rect x="535.9" y="77.0" width="8.4" height="8.4" fill="#111"/>
<rect x="574.6" y="61.5" width="8.4" height="8.4" fill="#111"/>
<rect x="613.3" y="37.9" width="8.4" height="8.4" fill="#111"/>
<g font-family="'Liberation Sans', Arial, sans-serif" font-weight="bold" font-size="16" fill="#111" stroke="#111" stroke-width="0.3">
<text x="400.8" y="200.9" text-anchor="end">350</text>
<text x="400.8" y="169.9" text-anchor="end">400</text>
<text x="400.8" y="138.8" text-anchor="end">450</text>
<text x="400.8" y="107.8" text-anchor="end">500</text>
<text x="400.8" y="76.8" text-anchor="end">550</text>
<text x="400.8" y="45.7" text-anchor="end">600</text>
<text x="400.8" y="14.7" text-anchor="end">650</text>
<text x="424.0" y="211.5" text-anchor="middle">100</text>
<text x="462.7" y="211.5" text-anchor="middle">95</text>
<text x="501.4" y="211.5" text-anchor="middle">87.5</text>
<text x="540.1" y="211.5" text-anchor="middle">75</text>
<text x="578.8" y="211.5" text-anchor="middle">62.5</text>
<text x="617.5" y="211.5" text-anchor="middle">50</text>
<text x="437" y="232.5" font-size="15" textLength="164.3" lengthAdjust="spacingAndGlyphs">Molar ratio of Tf<tspan font-size="10" dy="3">2</tspan><tspan dy="-3">N</tspan><tspan font-size="10" dy="-5">-</tspan><tspan dy="5"> (%)</tspan></text>
<text transform="translate(367.2,197.6) rotate(-90)" x="0" y="0" font-size="15" textLength="189.7" lengthAdjust="spacingAndGlyphs">Reflectance Maxima (nm)</text>
</g>
<g font-family="'Liberation Sans', Arial, sans-serif" font-weight="bold" font-size="29" fill="#111" letter-spacing="2">
<text x="0.4" y="23.2" letter-spacing="1.5">a)</text>
<text x="320.9" y="28.6">b)</text>
<text x="10" y="263.9">c)</text>
<text x="10" y="377.2">d)</text>
<text x="227.5" y="376.2">e)</text>
<text x="449" y="377.4">f)</text>
</g>
<g clip-path="url(#cDry)"><g transform="rotate(12 94.2 291.7)" filter="url(#nDry)"><g transform="rotate(-12 94.2 291.7)">
<rect x="51.2" y="248.6" width="86.0" height="86.2" fill="url(#gDry)"/>
<rect x="51.2" y="248.6" width="86.0" height="86.2" fill="url(#b1)"/>
<rect x="51.2" y="248.6" width="86.0" height="86.2" fill="url(#b2)"/>
</g></g></g>
<g clip-path="url(#c100)"><g transform="rotate(-65 194.2 291.7)" filter="url(#n100)"><g transform="rotate(65 194.2 291.7)">
<rect x="151.2" y="248.6" width="86.0" height="86.2" fill="url(#g100)"/>
<rect x="151.2" y="248.6" width="86.0" height="86.2" fill="url(#b3)"/>
<rect x="151.2" y="248.6" width="86.0" height="86.2" fill="url(#b4)"/>
<rect x="151.2" y="248.6" width="86.0" height="86.2" fill="url(#b5)"/>
<rect x="151.2" y="248.6" width="86.0" height="86.2" fill="url(#b6)"/>
</g></g></g>
<g filter="url(#n75)">
<rect x="251.2" y="248.6" width="86.0" height="86.2" fill="url(#g75)"/>
<rect x="251.2" y="248.6" width="86.0" height="86.2" fill="url(#b7)"/>
<rect x="251.2" y="248.6" width="86.0" height="86.2" fill="url(#b8)"/>
<rect x="251.2" y="248.6" width="86.0" height="86.2" fill="url(#b9)"/>
<rect x="251.2" y="248.6" width="86.0" height="86.2" fill="url(#b10)"/>
<rect x="251.2" y="248.6" width="86.0" height="86.2" fill="url(#b11)"/>
</g>
<g clip-path="url(#c625)"><g transform="rotate(40 393.8 291.7)" filter="url(#n625)"><g transform="rotate(-40 393.8 291.7)">
<rect x="350.8" y="248.6" width="86.0" height="86.2" fill="url(#g625)"/>
<rect x="350.8" y="248.6" width="86.0" height="86.2" fill="url(#b12)"/>
<rect x="350.8" y="248.6" width="86.0" height="86.2" fill="url(#b13)"/>
</g></g></g>
<g clip-path="url(#c50)"><g transform="rotate(10 494.2 291.7)" filter="url(#n50)"><g transform="rotate(-10 494.2 291.7)">
<rect x="451.2" y="248.6" width="86.0" height="86.2" fill="url(#g50)"/>
<rect x="451.2" y="248.6" width="86.0" height="86.2" fill="url(#b14)"/>
<rect x="451.2" y="248.6" width="86.0" height="86.2" fill="url(#b15)"/>
<rect x="451.2" y="248.6" width="86.0" height="86.2" fill="url(#b16)"/>
<rect x="451.2" y="248.6" width="86.0" height="86.2" fill="url(#b17)"/>
<rect x="451.2" y="248.6" width="86.0" height="86.2" fill="url(#b18)"/>
<rect x="451.2" y="248.6" width="86.0" height="86.2" fill="url(#b19)"/>
</g></g></g>
<g filter="url(#n40)">
<rect x="551.3" y="247.6" width="86.5" height="86.2" fill="url(#g40)"/>
<rect x="551.3" y="248.6" width="86.0" height="86.2" fill="url(#b20)"/>
<rect x="551.3" y="248.6" width="86.0" height="86.2" fill="url(#b21)"/>
</g>
<rect x="109.0" y="325.0" width="21.0" height="4.5" fill="#fff"/>
<text transform="translate(59.05 274.00) scale(1.00 1)" x="0" y="0" font-family="'Liberation Sans', Arial, sans-serif" font-weight="bold" font-size="26.0" fill="#161a30" stroke="#161a30" stroke-width="0.55" textLength="45.0" lengthAdjust="spacing">Dry</text>
<rect x="208.2" y="323.6" width="21.0" height="4.0" fill="#fff"/>
<text transform="translate(156.95 276.50) scale(0.86 1)" x="0" y="0" font-family="'Liberation Sans', Arial, sans-serif" font-weight="bold" font-size="27.5" fill="#151515" stroke="#151515" stroke-width="0.55" textLength="77.8" lengthAdjust="spacing">100%</text>
<rect x="309.0" y="323.9" width="21.0" height="4.3" fill="#fff"/>
<text transform="translate(258.45 276.60) scale(0.86 1)" x="0" y="0" font-family="'Liberation Sans', Arial, sans-serif" font-weight="bold" font-size="27.5" fill="#151515" stroke="#151515" stroke-width="0.55" textLength="61.5" lengthAdjust="spacing">75%</text>
<rect x="411.3" y="323.6" width="20.3" height="4.0" fill="#fff"/>
<text transform="translate(354.55 276.80) scale(0.86 1)" x="0" y="0" font-family="'Liberation Sans', Arial, sans-serif" font-weight="bold" font-size="27.5" fill="#151515" stroke="#151515" stroke-width="0.55" textLength="89.3" lengthAdjust="spacing">62.5%</text>
<rect x="509.7" y="324.0" width="21.1" height="3.6" fill="#fff"/>
<text transform="translate(459.25 277.00) scale(0.86 1)" x="0" y="0" font-family="'Liberation Sans', Arial, sans-serif" font-weight="bold" font-size="27.5" fill="#151515" stroke="#151515" stroke-width="0.55" textLength="61.2" lengthAdjust="spacing">50%</text>
<rect x="609.4" y="321.8" width="21.2" height="4.3" fill="#fff"/>
<text transform="translate(557.95 277.00) scale(0.86 1)" x="0" y="0" font-family="'Liberation Sans', Arial, sans-serif" font-weight="bold" font-size="27.5" fill="#151515" stroke="#151515" stroke-width="0.55" textLength="62.4" lengthAdjust="spacing">40%</text>
<g filter="url(#nDt)">
<rect x="49.5" y="356.5" width="155.5" height="154.5" fill="url(#gDt)"/>
<rect x="49.5" y="356.5" width="155.5" height="154.5" fill="url(#b22)"/>
<rect x="49.5" y="356.5" width="155.5" height="154.5" fill="url(#b23)"/>
<rect x="49.5" y="356.5" width="155.5" height="154.5" fill="url(#b24)"/>
<rect x="49.5" y="356.5" width="155.5" height="154.5" fill="url(#b25)"/>
</g>
<g filter="url(#nEt)">
<rect x="264.5" y="358.0" width="155.5" height="152.6" fill="url(#gEt)"/>
<rect x="264.5" y="358.0" width="155.5" height="152.6" fill="url(#b26)"/>
<rect x="264.5" y="358.0" width="155.5" height="152.6" fill="url(#b27)"/>
<rect x="264.5" y="358.0" width="155.5" height="152.6" fill="url(#b28)"/>
<rect x="264.5" y="358.0" width="155.5" height="152.6" fill="url(#b29)"/>
<rect x="264.5" y="358.0" width="155.5" height="152.6" fill="url(#b30)"/>
</g>
<g filter="url(#nFt)">
<rect x="481.0" y="358.0" width="155.5" height="153.0" fill="url(#gFt)"/>
<rect x="481.0" y="358.0" width="155.5" height="153.0" fill="url(#b31)"/>
<rect x="481.0" y="358.0" width="155.5" height="153.0" fill="url(#b32)"/>
<rect x="481.0" y="358.0" width="155.5" height="153.0" fill="url(#b33)"/>
</g>
<g filter="url(#nDb)">
<rect x="50.5" y="522.7" width="155.5" height="151.3" fill="url(#gDb)"/>
<rect x="50.5" y="522.7" width="155.5" height="151.3" fill="url(#b34)"/>
<rect x="50.5" y="522.7" width="155.5" height="151.3" fill="url(#b35)"/>
<rect x="50.5" y="522.7" width="155.5" height="151.3" fill="url(#b36)"/>
<rect x="50.5" y="522.7" width="155.5" height="151.3" fill="url(#b37)"/>
<rect x="50.5" y="522.7" width="155.5" height="151.3" fill="url(#b38)"/>
<g transform="translate(45,515) scale(0.26525)">
<path d="M215,210 C260,200 330,205 365,235 C392,262 395,330 378,400 C360,470 320,545 275,585 C262,597 248,590 238,565 C215,500 190,420 178,340 C170,290 172,240 215,210 Z" fill="url(#gCarrot)" stroke="#68b448" stroke-width="10"/>
</g>
<path d="M82.6,555.0 C83.3,556.2 85.0,560.6 87.0,562.5 C89.0,564.4 90.1,565.3 94.5,566.2 C98.9,567.1 107.0,567.8 113.2,568.0 C119.5,568.2 125.8,567.9 132.0,567.4 C138.2,566.9 146.1,566.2 150.7,565.0 C155.3,563.8 157.7,561.9 159.4,560.0 C161.1,558.1 161.1,555.8 160.7,553.7 C160.3,551.6 158.9,549.0 157.0,547.5 C155.1,546.0 151.9,546.2 149.4,545.0 C146.9,543.8 143.4,542.1 142.0,540.0 C140.6,537.9 141.8,534.4 140.7,532.5 C139.6,530.6 137.6,529.4 135.7,528.7 C133.8,528.0 131.3,527.9 129.4,528.1 C127.5,528.3 126.1,529.3 124.4,530.0 C122.8,530.7 121.2,532.7 119.5,532.5 C117.8,532.3 116.6,529.8 114.5,528.7 C112.4,527.7 109.5,526.4 107.0,526.2 C104.5,526.0 101.6,526.5 99.5,527.5 C97.4,528.5 95.3,530.6 94.5,532.5 C93.7,534.4 95.3,536.8 94.5,538.7 C93.7,540.6 91.2,542.0 89.5,543.7 C87.8,545.4 85.7,546.8 84.5,548.7 C83.3,550.6 82.9,554.0 82.6,555.0 Z" fill="url(#gLeaf)" stroke="#7cc8d0" stroke-width="2.1"/>
<rect x="85.0" y="580.0" width="25.0" height="40.0" fill="url(#b39)"/>
<rect x="100.0" y="645.0" width="30.0" height="30.0" fill="url(#b40)"/>
<rect x="128.0" y="588.0" width="18.0" height="18.0" fill="url(#b41)"/>
<rect x="95.0" y="530.0" width="60.0" height="25.0" fill="url(#b42)"/>
</g>
<g filter="url(#nEb)">
<rect x="265.0" y="522.0" width="155.6" height="151.8" fill="url(#gEb)"/>
<rect x="265.0" y="522.0" width="155.6" height="151.8" fill="url(#b43)"/>
<rect x="265.0" y="522.0" width="155.6" height="151.8" fill="url(#b44)"/>
<rect x="265.0" y="522.0" width="155.6" height="151.8" fill="url(#b45)"/>
<rect x="265.0" y="522.0" width="155.6" height="151.8" fill="url(#b46)"/>
<path d="M269.5,579 L302,536.3 L322,557.5 L334.5,545 L349.5,565 L359.5,557.5 L370,580.5 Z" fill="url(#gMount)" stroke="#a8b848" stroke-width="2.4" stroke-linejoin="round"/>
<path d="M268.2,608.7 C269.7,607.5 271.8,603.3 277.0,601.2 C282.2,599.1 289.5,597.5 299.5,596.2 C309.5,595.0 324.5,594.3 337.0,593.7 C349.5,593.1 364.5,592.7 374.5,592.5 C384.5,592.3 391.8,592.1 397.0,592.5 C402.2,592.9 404.4,593.8 405.7,595.0 C406.9,596.2 406.8,598.5 404.5,600.0 C402.2,601.5 398.2,602.5 392.0,603.7 C385.8,605.0 374.9,606.5 367.0,607.5 C359.1,608.5 349.9,609.2 344.5,610.0 C339.1,610.8 333.7,610.8 334.5,612.5 C335.3,614.2 342.8,617.5 349.5,620.0 C356.2,622.5 366.6,625.2 374.5,627.5 C382.4,629.8 391.2,632.0 397.0,633.7 C402.8,635.4 406.4,635.8 409.5,637.5 C412.6,639.2 414.9,641.6 415.7,643.7 C416.5,645.8 415.9,648.3 414.5,650.0 C413.1,651.7 413.7,652.7 407.0,653.7 C400.3,654.7 386.2,655.8 374.5,656.2 C362.8,656.6 344.8,656.6 337.0,656.2 C329.2,655.8 329.2,655.4 328.0,653.7 C326.8,652.0 328.4,648.5 329.5,646.2 C330.6,643.9 334.5,641.7 334.5,640.0 C334.5,638.3 333.2,637.7 329.5,636.2 C325.8,634.7 318.2,633.1 312.0,631.2 C305.8,629.3 297.8,626.9 292.0,625.0 C286.2,623.1 280.8,621.9 277.0,620.0 C273.2,618.1 271.0,615.6 269.5,613.7 C268.0,611.8 268.4,609.5 268.2,608.7 Z" fill="url(#gLake)" stroke="#98c048" stroke-width="2.4" stroke-linejoin="round"/>
</g>
<g filter="url(#nFb)">
<rect x="481.0" y="520.4" width="155.5" height="156.6" fill="url(#gFb)"/>
<rect x="481.0" y="520.4" width="155.5" height="156.6" fill="url(#b47)"/>
<rect x="481.0" y="520.4" width="155.5" height="156.6" fill="url(#b48)"/>
<rect x="481.0" y="520.4" width="155.5" height="156.6" fill="url(#b49)"/>
<path d="M519.1,600.5 L530.0,596.5 L545.0,594.5 L559.4,592.0 L572.0,591.5 L584.9,593.0 L606.1,597.0 L618.8,603.5 L606.1,606.2 L590.0,607.5 L578.5,610.0 L577.0,640.0 L575.5,677.0 L561.5,677.0 L562.0,640.0 L561.5,610.0 L545.0,607.5 L528.0,604.5 Z" fill="url(#gStem)" stroke="#98c848" stroke-width="2.6" stroke-linejoin="round"/>
<rect x="595.0" y="530.0" width="41.0" height="70.0" fill="url(#b50)"/>
<path d="M518.5,527.5 C516.8,528.3 511.6,530.6 508.5,532.5 C505.4,534.4 502.6,536.6 499.7,538.7 C496.8,540.8 492.9,542.7 491.0,545.0 C489.1,547.3 488.3,549.8 488.5,552.5 C488.7,555.2 490.3,558.5 492.2,561.2 C494.1,563.9 497.0,566.2 499.7,568.7 C502.4,571.2 505.4,573.9 508.5,576.2 C511.6,578.5 514.8,580.7 518.5,582.4 C522.2,584.1 526.9,585.4 531.0,586.2 C535.1,587.0 539.2,587.2 543.4,587.4 C547.6,587.6 551.8,587.6 556.0,587.4 C560.2,587.2 564.3,586.8 568.5,586.2 C572.7,585.6 576.8,584.7 581.0,583.7 C585.2,582.7 589.3,581.7 593.5,580.0 C597.7,578.3 602.5,576.4 606.0,573.7 C609.5,571.0 613.0,567.5 614.7,563.7 C616.4,560.0 616.4,555.0 616.0,551.2 C615.6,547.5 614.3,543.9 612.2,541.2 C610.1,538.5 606.5,536.2 603.4,535.0 C600.3,533.8 595.1,533.9 593.5,533.7" fill="none" stroke="#a8cc50" stroke-width="11" stroke-linecap="round" stroke-linejoin="round" opacity="0.75"/>
<path d="M518.5,527.5 C520.6,527.3 526.9,526.2 531.0,526.2 C535.1,526.2 539.2,526.8 543.4,527.5 C547.6,528.2 551.8,530.1 556.0,530.5 C560.2,530.9 564.3,530.3 568.5,530.0 C572.7,529.7 576.8,528.5 581.0,528.7 C585.2,528.9 589.8,530.0 593.5,531.0 C597.2,532.0 601.8,534.3 603.4,535.0" fill="none" stroke="#a8cc50" stroke-width="11" stroke-linecap="round" stroke-linejoin="round" opacity="0.75"/>
<path d="M512.2,545.0 C514.3,544.6 520.5,542.7 524.7,542.5 C528.9,542.3 532.8,542.9 537.2,543.7 C541.6,544.5 547.0,546.2 550.9,547.5 C554.8,548.8 557.4,550.3 560.9,551.2 C564.4,552.1 568.0,552.2 572.0,553.0 C576.0,553.8 581.0,554.8 585.0,556.0 C589.0,557.2 594.2,559.3 596.0,560.0" fill="none" stroke="#a8cc50" stroke-width="11" stroke-linecap="round" stroke-linejoin="round" opacity="0.75"/>
<path d="M512.2,545.0 C512.4,547.1 512.5,553.8 513.5,557.5 C514.5,561.2 515.6,564.9 518.5,567.4 C521.4,569.9 526.9,570.9 531.0,572.4 C535.1,573.9 538.6,575.4 543.4,576.2 C548.2,577.0 553.9,577.5 560.0,577.0 C566.1,576.5 573.7,574.8 580.0,573.0 C586.3,571.2 594.0,568.8 598.0,566.0 C602.0,563.2 603.0,557.7 604.0,556.0" fill="none" stroke="#a8cc50" stroke-width="11" stroke-linecap="round" stroke-linejoin="round" opacity="0.75"/>
<path d="M520.0,529.0 C519.5,530.3 516.3,534.8 517.0,537.0 C517.7,539.2 522.8,541.2 524.0,542.0" fill="none" stroke="#a8cc50" stroke-width="11" stroke-linecap="round" stroke-linejoin="round" opacity="0.75"/>
<path d="M592.0,540.0 C593.2,539.8 596.7,538.0 599.0,539.0 C601.3,540.0 605.0,543.2 606.0,546.0 C607.0,548.8 606.3,553.2 605.0,556.0 C603.7,558.8 599.2,561.8 598.0,563.0" fill="none" stroke="#a8cc50" stroke-width="11" stroke-linecap="round" stroke-linejoin="round" opacity="0.75"/>
<path d="M552.0,531.0 C553.0,532.5 554.2,538.0 558.0,540.0 C561.8,542.0 569.3,542.2 575.0,543.0 C580.7,543.8 589.2,544.7 592.0,545.0" fill="none" stroke="#a8cc50" stroke-width="11" stroke-linecap="round" stroke-linejoin="round" opacity="0.75"/>
<path d="M500.0,548.0 C500.8,547.5 503.0,545.5 505.0,545.0 C507.0,544.5 511.0,545.0 512.2,545.0" fill="none" stroke="#a8cc50" stroke-width="11" stroke-linecap="round" stroke-linejoin="round" opacity="0.75"/>
<path d="M518.5,527.5 C516.8,528.3 511.6,530.6 508.5,532.5 C505.4,534.4 502.6,536.6 499.7,538.7 C496.8,540.8 492.9,542.7 491.0,545.0 C489.1,547.3 488.3,549.8 488.5,552.5 C488.7,555.2 490.3,558.5 492.2,561.2 C494.1,563.9 497.0,566.2 499.7,568.7 C502.4,571.2 505.4,573.9 508.5,576.2 C511.6,578.5 514.8,580.7 518.5,582.4 C522.2,584.1 526.9,585.4 531.0,586.2 C535.1,587.0 539.2,587.2 543.4,587.4 C547.6,587.6 551.8,587.6 556.0,587.4 C560.2,587.2 564.3,586.8 568.5,586.2 C572.7,585.6 576.8,584.7 581.0,583.7 C585.2,582.7 589.3,581.7 593.5,580.0 C597.7,578.3 602.5,576.4 606.0,573.7 C609.5,571.0 613.0,567.5 614.7,563.7 C616.4,560.0 616.4,555.0 616.0,551.2 C615.6,547.5 614.3,543.9 612.2,541.2 C610.1,538.5 606.5,536.2 603.4,535.0 C600.3,533.8 595.1,533.9 593.5,533.7" fill="none" stroke="url(#gRoseS)" stroke-width="7.5" stroke-linecap="round" stroke-linejoin="round"/>
<path d="M518.5,527.5 C520.6,527.3 526.9,526.2 531.0,526.2 C535.1,526.2 539.2,526.8 543.4,527.5 C547.6,528.2 551.8,530.1 556.0,530.5 C560.2,530.9 564.3,530.3 568.5,530.0 C572.7,529.7 576.8,528.5 581.0,528.7 C585.2,528.9 589.8,530.0 593.5,531.0 C597.2,532.0 601.8,534.3 603.4,535.0" fill="none" stroke="url(#gRoseS)" stroke-width="7.5" stroke-linecap="round" stroke-linejoin="round"/>
<path d="M512.2,545.0 C514.3,544.6 520.5,542.7 524.7,542.5 C528.9,542.3 532.8,542.9 537.2,543.7 C541.6,544.5 547.0,546.2 550.9,547.5 C554.8,548.8 557.4,550.3 560.9,551.2 C564.4,552.1 568.0,552.2 572.0,553.0 C576.0,553.8 581.0,554.8 585.0,556.0 C589.0,557.2 594.2,559.3 596.0,560.0" fill="none" stroke="url(#gRoseS)" stroke-width="7.5" stroke-linecap="round" stroke-linejoin="round"/>
<path d="M512.2,545.0 C512.4,547.1 512.5,553.8 513.5,557.5 C514.5,561.2 515.6,564.9 518.5,567.4 C521.4,569.9 526.9,570.9 531.0,572.4 C535.1,573.9 538.6,575.4 543.4,576.2 C548.2,577.0 553.9,577.5 560.0,577.0 C566.1,576.5 573.7,574.8 580.0,573.0 C586.3,571.2 594.0,568.8 598.0,566.0 C602.0,563.2 603.0,557.7 604.0,556.0" fill="none" stroke="url(#gRoseS)" stroke-width="7.5" stroke-linecap="round" stroke-linejoin="round"/>
<path d="M520.0,529.0 C519.5,530.3 516.3,534.8 517.0,537.0 C517.7,539.2 522.8,541.2 524.0,542.0" fill="none" stroke="url(#gRoseS)" stroke-width="7.5" stroke-linecap="round" stroke-linejoin="round"/>
<path d="M592.0,540.0 C593.2,539.8 596.7,538.0 599.0,539.0 C601.3,540.0 605.0,543.2 606.0,546.0 C607.0,548.8 606.3,553.2 605.0,556.0 C603.7,558.8 599.2,561.8 598.0,563.0" fill="none" stroke="url(#gRoseS)" stroke-width="7.5" stroke-linecap="round" stroke-linejoin="round"/>
<path d="M552.0,531.0 C553.0,532.5 554.2,538.0 558.0,540.0 C561.8,542.0 569.3,542.2 575.0,543.0 C580.7,543.8 589.2,544.7 592.0,545.0" fill="none" stroke="url(#gRoseS)" stroke-width="7.5" stroke-linecap="round" stroke-linejoin="round"/>
<path d="M500.0,548.0 C500.8,547.5 503.0,545.5 505.0,545.0 C507.0,544.5 511.0,545.0 512.2,545.0" fill="none" stroke="url(#gRoseS)" stroke-width="7.5" stroke-linecap="round" stroke-linejoin="round"/>
</g>
<rect x="162.2" y="500.7" width="36.6" height="5.1" fill="#fff"/>
<rect x="158.5" y="664.9" width="36.4" height="4.5" fill="#fff"/>
<rect x="377.0" y="499.6" width="36.0" height="4.4" fill="#fff"/>
<rect x="373.3" y="665.8" width="36.2" height="4.2" fill="#fff"/>
<rect x="595.2" y="500.2" width="36.3" height="4.0" fill="#fff"/>
<rect x="593.0" y="666.9" width="37.0" height="4.3" fill="#fff"/>
</svg>
</body></html>
